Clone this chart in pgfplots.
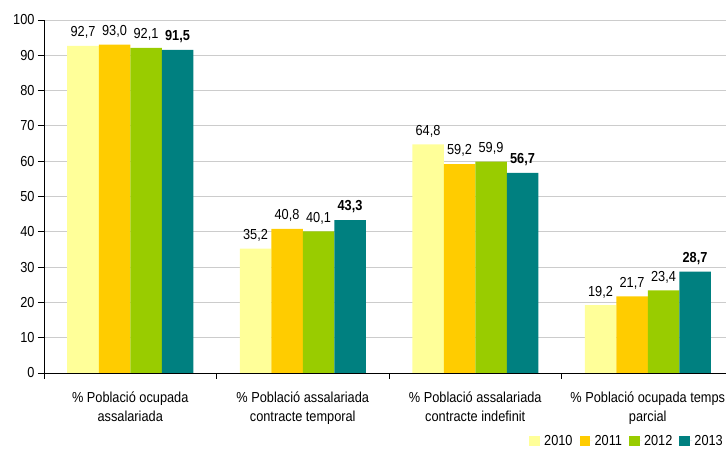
\documentclass[border=0pt]{standalone}
\usepackage{pgfplots}
\pgfplotsset{compat=1.18}
\usepackage{fontspec}
\setmainfont{Liberation Sans}[FakeStretch=0.88]
\definecolor{c10}{HTML}{FFFF99}
\definecolor{c11}{HTML}{FFCC00}
\definecolor{c12}{HTML}{99CC00}
\definecolor{c13}{HTML}{008080}
\newcommand{\lf}{\fontsize{14.5}{19.5}\selectfont}
\pgfplotsset{sqleg/.style={legend image code/.code={\fill[##1] (0pt,-5.5pt) rectangle (10.5pt,5pt);\path (0pt,0pt) -- (13pt,0pt);}}}
\begin{document}
\begin{tikzpicture}
\path[use as bounding box] (-44pt,-76pt) rectangle (682pt,373pt);
\begin{axis}[
  at={(0,0)}, anchor=south west,
  scale only axis, width=682pt, height=353pt,
  ybar=0pt, bar width=31.5pt,
  xmin=-0.5, xmax=3.4536, ymin=0, ymax=100,
  axis lines=left, axis line style={-, black, line width=0.8pt},
  clip=false,
  ytick={0,10,...,100},
  ymajorgrids, major grid style={gray!40, line width=0.8pt},
  xtick={-0.5,0.5,1.5,2.5}, xticklabels={},
  extra x ticks={0,1,2,3},
  extra x tick labels={{\% Població ocupada\\assalariada},{\% Població assalariada\\contracte temporal},{\% Població assalariada\\contracte indefinit},{\% Població ocupada temps\\parcial}},
  extra x tick style={major tick length=0pt, grid=none, tick label style={yshift=-15pt}},
  tick align=outside, major tick length=6pt,
  tick style={black, line width=0.8pt},
  /pgf/number format/assume math mode=true,
  tick label style={font=\lf},
  x tick label style={align=center},
  nodes near coords={\pgfmathprintnumber[fixed,fixed zerofill,precision=1,use comma,assume math mode=true]{\pgfplotspointmeta}},
  every node near coord/.append style={font=\lf, inner xsep=3pt, inner ysep=7pt},
  legend style={at={(1,-0.192)}, anchor=east, draw=none, fill=none, legend columns=-1, font=\lf,
    /tikz/every even column/.append style={column sep=5pt}, inner sep=1pt},
  legend cell align=left,
]
\addplot[fill=c10, draw=none, sqleg] coordinates {(0,92.7) (1,35.2) (2,64.8) (3,19.2)};
\addplot[fill=c11, draw=none, sqleg] coordinates {(0,93.0) (1,40.8) (2,59.2) (3,21.7)};
\addplot[fill=c12, draw=none, sqleg] coordinates {(0,92.1) (1,40.1) (2,59.9) (3,23.4)};
\addplot[fill=c13, draw=none, sqleg, every node near coord/.append style={font=\lf\bfseries}] coordinates {(0,91.5) (1,43.3) (2,56.7) (3,28.7)};
\legend{2010,2011,2012,2013}
\end{axis}
\end{tikzpicture}
\end{document}
